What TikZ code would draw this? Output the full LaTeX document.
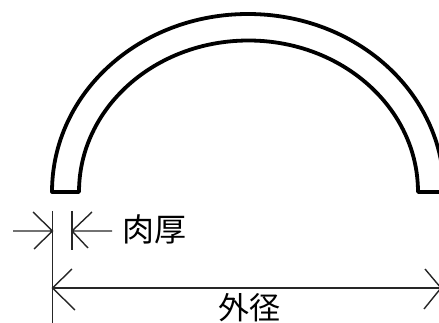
\documentclass[tikz,border=0pt]{standalone}
\usepackage{fontspec}
\newfontfamily\cjk{Noto Sans CJK JP}
\tikzset{
  profile/.style={line width=3.8pt,line join=round,line cap=round},
  dimline/.style={line width=1.4pt,color=black!85},
  dimlabel/.style={inner sep=0pt,font=\cjk\fontsize{32}{32}\selectfont},
  dimlabelb/.style={inner sep=0pt,font=\cjk\fontsize{31}{31}\selectfont}
}
\begin{document}
\begin{tikzpicture}[x=1pt,y=-1pt]
\useasboundingbox (0,0) rectangle (439,323);
\begin{scope}
\clip (0,0) rectangle (439,323);
% pipe section
\draw[profile] (52,192) .. controls (52,93) and (139.5,14) .. (248,14)
  .. controls (356.5,14) and (444,93) .. (444,192) -- (418,192)
  .. controls (418,108) and (342,40.5) .. (248.5,40.5)
  .. controls (155,40.5) and (79,108) .. (79,192) -- cycle;
% outer diameter right end, running off the edge
\coordinate (dB) at (441,288);
\coordinate (dA) at (52.5,288);
\draw[dimline] (dA) -- (dB);
\draw[dimline] (425,269) -- (dB) -- (424,309);
\end{scope}
% extension lines
\coordinate (extA0) at (52.5,211);
\coordinate (extA1) at (52.5,323);
\coordinate (extB0) at (72,211);
\coordinate (extB1) at (72,250);
\draw[dimline] (extA0) -- (extA1);
\draw[dimline] (extB0) -- (extB1);
% wall thickness
\coordinate (tL) at (13,231);
\coordinate (tA) at (52.5,231);
\coordinate (tB) at (72,231);
\coordinate (tR) at (112,231);
\draw[dimline] (tL) -- (tA) (33,212) -- (tA) -- (34,249);
\draw[dimline] (tR) -- (tB) (92,212) -- (tB) -- (88,248);
\node[dimlabel,anchor=center] (wall) at (154.5,229) {肉厚};
% outer diameter
\draw[dimline] (72,269) -- (dA) -- (75,310);
\node[dimlabelb,anchor=center] (dia) at (249.5,308) {外径};
\end{tikzpicture}
\end{document}
